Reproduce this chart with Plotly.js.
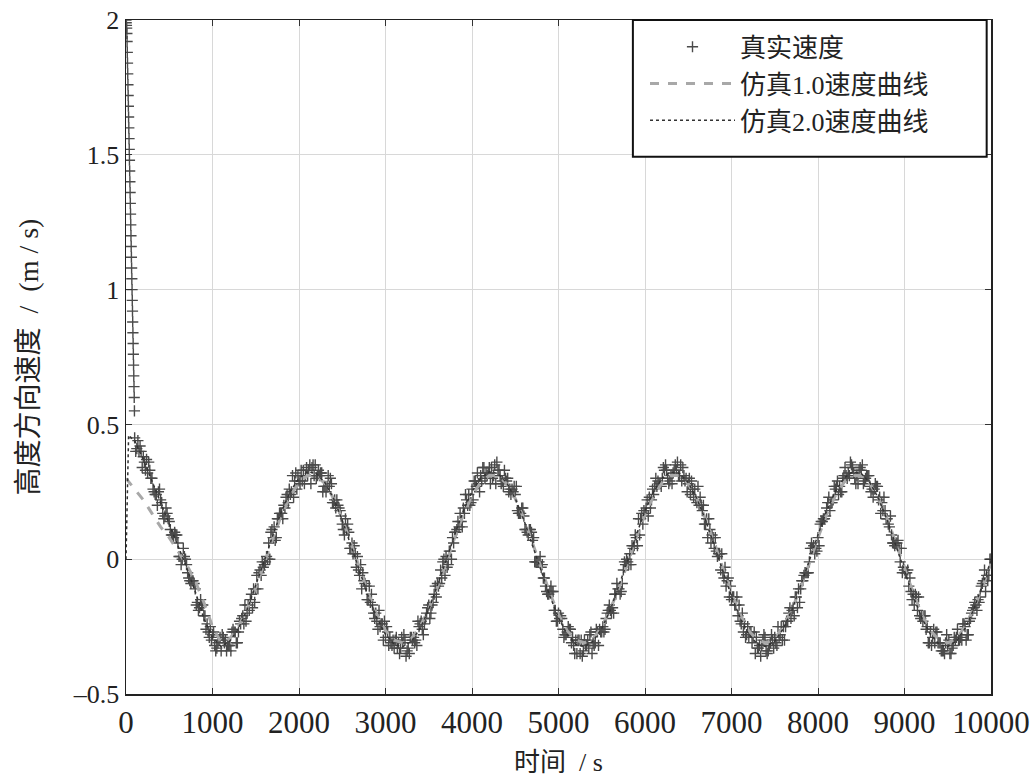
<!DOCTYPE html>
<html><head><meta charset="utf-8">
<script src="https://cdn.plot.ly/plotly-3.0.1.min.js"></script>
<style>html,body{margin:0;padding:0;background:#fff;}#chart{width:1036px;height:783px;}</style>
</head><body><div id="chart"></div>
<script>
// ---- data ----
// 真实速度: initial transient samples (t = 0 .. 97.5 s, every 2.5 s)
const trueStartT0 = 0, trueStartDt = 2.5;
const trueStartV = [2.00,1.99,1.98,1.97,1.95,1.92,1.88,1.84,1.80,1.76,1.72,1.68,1.64,1.60,1.56,1.52,1.48,1.44,1.40,1.36,1.32,1.28,1.24,1.20,1.16,1.12,1.08,1.04,1.00,0.96,0.92,0.88,0.84,0.80,0.76,0.72,0.68,0.64,0.60,0.55];
// 真实速度: samples A, t = 100 .. 10000 s, every 50 s
const trueAT0 = 100, trueADt = 50;
const trueAV = [
 0.45,0.40,0.38,0.32,0.30,0.24,0.22,0.16,0.14,0.08,0.06,0.00,-0.02,-0.09,-0.11,-0.18,-0.21,-0.27,-0.28,-0.33,
 -0.34,-0.30,-0.32,-0.27,-0.27,-0.21,-0.20,-0.13,-0.11,-0.04,-0.02,0.06,0.08,0.15,0.17,0.23,0.24,0.29,0.29,0.33,0.31,0.34,0.30,0.32,0.27,0.27,0.21,0.20,0.13,0.11,0.04,0.02,-0.06,-0.08,-0.15,-0.17,-0.23,-0.24,-0.29,-0.29,-0.33,-0.31,
 -0.31,-0.34,-0.29,-0.30,-0.24,-0.24,-0.17,-0.16,-0.09,-0.07,0.01,0.03,0.10,0.12,0.19,0.20,0.26,0.27,0.31,0.30,0.34,0.31,0.33,0.29,0.29,0.24,0.24,0.17,0.16,0.09,0.07,-0.01,-0.03,-0.10,-0.12,-0.19,-0.20,-0.26,-0.27,-0.31,-0.30,-0.35,
 -0.30,-0.33,-0.31,-0.27,-0.27,-0.22,-0.19,-0.13,-0.11,-0.04,-0.01,0.05,0.08,0.15,0.17,0.23,0.24,0.29,0.30,0.33,0.31,0.35,0.31,0.31,0.28,0.26,0.21,0.20,0.13,0.11,0.04,0.02,-0.05,-0.08,-0.15,-0.17,-0.23,-0.24,-0.29,-0.29,-0.33,-0.32,
 -0.34,-0.31,-0.29,-0.29,-0.25,-0.23,-0.19,-0.14,-0.11,-0.05,-0.01,0.05,0.08,0.14,0.19,0.21,0.26,0.27,0.31,0.32,0.34,0.31,0.33,0.30,0.27,0.26,0.22,0.18,0.15,0.09,0.06,-0.01,-0.04,-0.10,-0.13,-0.19,-0.21,-0.26,-0.27,-0.31,-0.31,-0.34,
 -0.32,-0.33,-0.29,-0.29,-0.25,-0.23,-0.18,-0.15,-0.09,-0.06,0.00
];
// 真实速度: samples B, t = 125 .. 9975 s, every 50 s
const trueBT0 = 125, trueBDt = 50;
const trueBV = [
 0.41,0.40,0.33,0.33,0.25,0.25,0.17,0.17,0.09,0.09,0.01,0.01,-0.07,-0.08,-0.16,-0.17,-0.26,-0.25,-0.32,-0.30,
 -0.29,-0.32,-0.27,-0.31,-0.24,-0.17,-0.19,-0.11,-0.11,-0.01,0.01,0.10,0.07,0.17,0.20,0.21,0.31,0.26,0.33,0.31,0.35,0.31,0.33,0.25,0.27,0.28,0.19,0.18,0.09,0.10,0.02,0.01,-0.11,-0.10,-0.16,-0.22,-0.19,-0.30,-0.27,-0.32,-0.29,-0.33,
 -0.30,-0.35,-0.29,-0.23,-0.26,-0.20,-0.20,-0.10,-0.09,0.00,-0.02,0.08,0.11,0.14,0.24,0.20,0.29,0.28,0.34,0.31,0.34,0.28,0.31,0.33,0.25,0.25,0.18,0.19,0.11,0.11,-0.01,-0.01,-0.07,-0.13,-0.12,-0.23,-0.21,-0.28,-0.26,-0.32,-0.30,-0.36,
 -0.32,-0.27,-0.31,-0.26,-0.27,-0.19,-0.18,-0.09,-0.12,-0.02,0.02,0.05,0.15,0.13,0.22,0.22,0.30,0.28,0.33,0.28,0.32,0.36,0.29,0.30,0.24,0.26,0.20,0.20,0.08,0.09,0.03,-0.04,-0.03,-0.14,-0.14,-0.21,-0.20,-0.28,-0.27,-0.35,-0.32,-0.28,
 -0.34,-0.30,-0.32,-0.25,-0.25,-0.18,-0.21,-0.11,-0.08,-0.05,0.06,0.04,0.13,0.15,0.23,0.22,0.29,0.25,0.31,0.36,0.30,0.33,0.28,0.31,0.26,0.27,0.17,0.18,0.12,0.06,0.07,-0.05,-0.05,-0.12,-0.13,-0.21,-0.21,-0.31,-0.29,-0.27,-0.34,-0.31,
 -0.35,-0.29,-0.30,-0.24,-0.28,-0.20,-0.17,-0.14,-0.04,-0.06
];
// 真实速度: samples C, t = 112.5 .. 9962.5 s, every 50 s
const trueCT0 = 112.5, trueCDt = 50;
const trueCV = [
 0.40,0.42,0.36,0.36,0.26,0.20,0.21,0.19,0.11,0.10,0.01,0.04,-0.05,-0.08,-0.17,-0.15,-0.21,-0.29,-0.27,-0.31,
 -0.28,-0.34,-0.34,-0.27,-0.23,-0.24,-0.17,-0.18,-0.06,-0.06,-0.01,0.00,0.12,0.15,0.15,0.24,0.25,0.32,0.28,0.28,0.33,0.35,0.31,0.32,0.25,0.30,0.22,0.19,0.11,0.13,0.06,-0.03,-0.02,-0.09,-0.10,-0.20,-0.26,-0.24,-0.25,-0.31,-0.30,-0.35,
 -0.28,-0.33,-0.30,-0.32,-0.23,-0.22,-0.22,-0.13,-0.10,-0.01,-0.03,0.00,0.10,0.17,0.17,0.24,0.22,0.32,0.29,0.32,0.28,0.35,0.33,0.27,0.30,0.26,0.27,0.17,0.11,0.11,0.08,-0.01,-0.02,-0.12,-0.10,-0.19,-0.22,-0.29,-0.25,-0.29,-0.35,-0.30,
 -0.32,-0.28,-0.32,-0.32,-0.25,-0.20,-0.20,-0.13,-0.13,-0.01,-0.02,0.04,0.05,0.17,0.19,0.19,0.27,0.28,0.34,0.30,0.28,0.33,0.35,0.29,0.30,0.23,0.27,0.18,0.15,0.06,0.08,0.02,-0.07,-0.07,-0.14,-0.14,-0.24,-0.29,-0.27,-0.27,-0.33,-0.30,
 -0.35,-0.28,-0.31,-0.28,-0.30,-0.20,-0.18,-0.18,-0.08,-0.05,0.04,0.02,0.05,0.15,0.21,0.21,0.27,0.25,0.34,0.31,0.32,0.28,0.35,0.31,0.25,0.28,0.23,0.23,0.13,0.06,0.06,0.04,-0.05,-0.07,-0.17,-0.14,-0.23,-0.25,-0.32,-0.27,-0.31,-0.35,
 -0.30,-0.32,-0.26,-0.30,-0.30,-0.22,-0.16,-0.16,-0.08,-0.08
];
// 真实速度: samples D, t = 137.5 .. 9987.5 s, every 50 s
const trueDT0 = 137.5, trueDDt = 50;
const trueDV = [
 0.44,0.34,0.37,0.30,0.24,0.26,0.15,0.15,0.09,0.09,-0.02,0.00,-0.08,-0.09,-0.19,-0.17,-0.24,-0.30,-0.34,-0.29,
 -0.31,-0.32,-0.26,-0.31,-0.22,-0.23,-0.15,-0.16,-0.05,-0.03,0.00,0.11,0.08,0.17,0.19,0.26,0.23,0.31,0.29,0.34,0.28,0.35,0.31,0.27,0.31,0.21,0.22,0.16,0.15,0.04,0.05,-0.04,-0.05,-0.15,-0.13,-0.20,-0.25,-0.23,-0.32,-0.30,-0.33,-0.29,
 -0.36,-0.29,-0.31,-0.25,-0.28,-0.18,-0.17,-0.14,-0.04,-0.06,0.03,0.06,0.14,0.12,0.22,0.21,0.29,0.25,0.34,0.32,0.30,0.36,0.28,0.30,0.26,0.27,0.17,0.19,0.10,0.10,-0.01,0.01,-0.07,-0.13,-0.12,-0.23,-0.22,-0.28,-0.26,-0.35,-0.30,-0.34,
 -0.30,-0.35,-0.26,-0.27,-0.26,-0.17,-0.20,-0.11,-0.09,0.00,-0.02,0.09,0.09,0.18,0.16,0.26,0.27,0.27,0.35,0.29,0.33,0.31,0.34,0.25,0.29,0.22,0.23,0.13,0.15,0.08,0.01,0.02,-0.10,-0.10,-0.17,-0.17,-0.27,-0.25,-0.31,-0.29,-0.36,-0.29,
 -0.32,-0.33,-0.25,-0.30,-0.23,-0.22,-0.14,-0.16,-0.06,-0.05,0.04,0.03,0.14,0.16,0.18,0.27,0.24,0.30,0.30,0.35,0.28,0.34,0.29,0.31,0.23,0.27,0.21,0.15,0.16,0.05,0.04,-0.03,-0.04,-0.15,-0.14,-0.22,-0.21,-0.31,-0.26,-0.31,-0.34,-0.28,
 -0.35,-0.30,-0.30,-0.24,-0.28,-0.19,-0.19,-0.10,-0.12,0.00
];
// 仿真1.0速度曲线: t = 0 .. 10000 s, every 100 s
const sim1T0 = 0, sim1Dt = 100;
const sim1V = [
 0.30,0.26,0.22,0.17,0.12,0.08,0.03,-0.02,-0.08,-0.16,-0.25,
 -0.31,-0.295,-0.25,-0.185,-0.105,-0.015,0.08,0.165,0.235,0.285,0.31,0.31,0.28,0.225,0.15,0.06,-0.035,-0.125,-0.205,-0.265,-0.30,
 -0.31,-0.295,-0.25,-0.185,-0.105,-0.015,0.08,0.165,0.235,0.285,0.31,0.31,0.28,0.225,0.15,0.06,-0.035,-0.125,-0.205,-0.265,-0.30,
 -0.31,-0.295,-0.25,-0.185,-0.105,-0.015,0.08,0.165,0.235,0.285,0.31,0.31,0.28,0.225,0.15,0.06,-0.035,-0.125,-0.205,-0.265,-0.30,
 -0.31,-0.295,-0.25,-0.185,-0.105,-0.015,0.08,0.165,0.235,0.285,0.31,0.31,0.28,0.225,0.15,0.06,-0.035,-0.125,-0.205,-0.265,-0.30,
 -0.31,-0.295,-0.25,-0.185,-0.105,-0.015
];
// 仿真2.0速度曲线: start points, then t = 200 .. 10000 s every 100 s
const sim2StartT = [0, 30, 60, 100];
const sim2StartV = [0.00, 0.46, 0.45, 0.44];
const sim2T0 = 200, sim2Dt = 100;
const sim2V = [
 0.37,0.29,0.21,0.13,0.05,-0.03,-0.12,-0.22,-0.29,
 -0.324,-0.304,-0.257,-0.187,-0.100,-0.005,0.091,0.179,0.251,0.301,0.324,0.318,0.284,0.225,0.145,0.053,-0.044,-0.137,-0.217,-0.279,-0.316,
 -0.324,-0.304,-0.257,-0.187,-0.100,-0.005,0.091,0.179,0.251,0.301,0.324,0.318,0.284,0.225,0.145,0.053,-0.044,-0.137,-0.217,-0.279,-0.316,
 -0.324,-0.304,-0.257,-0.187,-0.100,-0.005,0.091,0.179,0.251,0.301,0.324,0.318,0.284,0.225,0.145,0.053,-0.044,-0.137,-0.217,-0.279,-0.316,
 -0.324,-0.304,-0.257,-0.187,-0.100,-0.005,0.091,0.179,0.251,0.301,0.324,0.318,0.284,0.225,0.145,0.053,-0.044,-0.137,-0.217,-0.279,-0.316,
 -0.324,-0.304,-0.257,-0.187,-0.100,-0.005
];
const xTicks = [0,1000,2000,3000,4000,5000,6000,7000,8000,9000,10000];
const yTicks = [-0.5,0,0.5,1,1.5,2];
const yTickText = ['\u20130.5','0','0.5','1','1.5','2'];
const names = ['真实速度','仿真1.0速度曲线','仿真2.0速度曲线'];
const xTitle = '时间\u00a0\u00a0/\u00a0s';
const yTitle = '高度方向速度\u00a0\u00a0/\u00a0\u00a0(m\u00a0/\u00a0s)';

function times(t0, dt, n){ const a=[]; for(let i=0;i<n;i++) a.push(t0+i*dt); return a; }

const fam = '"Liberation Serif", "Times New Roman", "Noto Sans CJK SC", serif';

const trueX = times(trueStartT0, trueStartDt, trueStartV.length)
  .concat(times(trueAT0, trueADt, trueAV.length))
  .concat(times(trueBT0, trueBDt, trueBV.length))
  .concat(times(trueCT0, trueCDt, trueCV.length))
  .concat(times(trueDT0, trueDDt, trueDV.length));
const trueY = trueStartV.concat(trueAV, trueBV, trueCV, trueDV);

const traces = [
 { x: trueX, y: trueY, name: names[0], type:'scatter', mode:'markers',
   marker:{symbol:'cross-thin', size:8, color:'#4a4a4a', line:{color:'#4a4a4a', width:1.4}} },
 { x: times(sim1T0, sim1Dt, sim1V.length), y: sim1V, name: names[1], type:'scatter', mode:'lines',
   line:{color:'#a8a8a8', width:3, dash:'dash'} },
 { x: sim2StartT.concat(times(sim2T0, sim2Dt, sim2V.length)), y: sim2StartV.concat(sim2V), name: names[2], type:'scatter', mode:'lines',
   line:{color:'#333333', width:1.5, dash:'dot'} }
];

const xFont = {family: fam, size: 31, color:'#222'};
const yFont = {family: fam, size: 26, color:'#222'};
const layout = {
  width:1036, height:783,
  margin:{l:126, r:45, t:20, b:89},
  paper_bgcolor:'#fff', plot_bgcolor:'#fff',
  showlegend:true,
  shapes:[{type:'rect', xref:'paper', yref:'paper', x0:0.586, x1:0.995, y0:0.797, y1:1.0,
           fillcolor:'#fff', line:{color:'#111', width:2}, layer:'above'}],
  legend:{x:0.6, y:0.995, xanchor:'left', yanchor:'top', bgcolor:'rgba(0,0,0,0)',
          borderwidth:0, font:{family:fam, size:26, color:'#222'},
          itemwidth:85, tracegroupgap:0},
  xaxis:{range:[0,10000], tickvals:xTicks, ticktext:xTicks.map(String),
         showgrid:true, gridcolor:'#d8d8d8', gridwidth:1, zeroline:false,
         showline:true, linecolor:'#222', linewidth:1.5, mirror:'ticks',
         ticks:'inside', ticklen:6, tickcolor:'#333', tickfont:xFont,
         title:{text:xTitle, font:{family:fam, size:26, color:'#222'}, standoff:14}},
  yaxis:{range:[-0.5,2], tickvals:yTicks, ticktext:yTickText,
         showgrid:true, gridcolor:'#d8d8d8', gridwidth:1, zeroline:false,
         showline:true, linecolor:'#222', linewidth:1.5, mirror:'ticks',
         ticks:'inside', ticklen:6, tickcolor:'#333', tickfont:yFont,
         title:{text:yTitle, font:{family:fam, size:28, color:'#222'}, standoff:26}}
};
Plotly.newPlot('chart', traces, layout, {staticPlot:true, displayModeBar:false});
</script></body></html>
